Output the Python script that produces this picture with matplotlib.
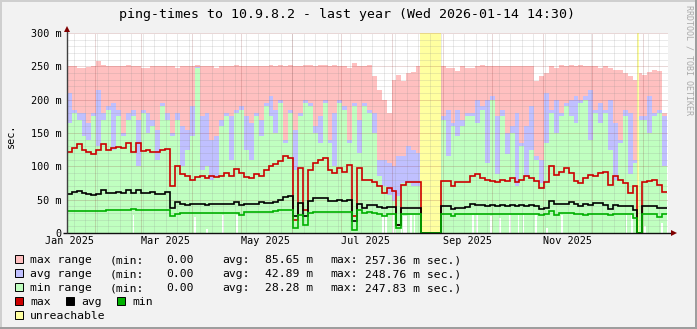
import numpy as np
import matplotlib
matplotlib.use("Agg")
import matplotlib.pyplot as plt
from matplotlib.patches import Rectangle
from matplotlib.lines import Line2D
from datetime import datetime, timedelta

W, H = 697, 329
BIN_DAYS = 3  # one value per 3 days, first bin starts 2025-01-14 14:30

# ping statistics (seconds * 1e3), one entry per bin
max_line = [121, 128, 133, 125, 121, 119, 125, 134, 124, 127, 129, 128, 135, 122, 135, 123, 125, 121, 121, 124, 126,
            70, 100, 88, 85, 80, 84, 86, 83, 86, 84, 85, 90, 86, 96, 90, 84, 82, 88, 86, 94,
            100, 104, 108, 115, 112, 20, 97, 35, 95, 105, 110, 112, 95, 90, 98, 92, 102, 25, 98, 80,
            80, 76, 70, 60, 67, 63, 12, 72, 76, 76, 76, 0, 0, 0, 0, 78, 78, 70, 76, 77, 77,
            85, 88, 82, 79, 78, 76, 80, 78, 83, 77, 80, 85, 82, 78, 68, 76, 100, 87, 92, 97,
            90, 78, 75, 82, 87, 86, 90, 92, 72, 85, 80, 75, 60, 70, 0, 76, 78, 80, 72, 62]
avg_line = [59, 62, 63, 60, 58, 57, 59, 65, 60, 60, 61, 60, 65, 60, 64, 60, 60, 61, 59, 59, 62,
            38, 47, 44, 42, 43, 43, 44, 42, 43, 44, 43, 44, 43, 46, 42, 44, 43, 44, 46, 45,
            45, 46, 50, 54, 56, 25, 45, 25, 48, 52, 53, 52, 48, 48, 50, 48, 50, 18, 44, 38,
            42, 42, 39, 37, 39, 39, 12, 38, 38, 38, 38, 0, 0, 0, 0, 40, 40, 36, 38, 38, 39,
            44, 42, 42, 41, 42, 41, 42, 41, 42, 41, 42, 41, 42, 41, 36, 38, 48, 44, 43, 43,
            46, 43, 40, 44, 42, 45, 45, 42, 36, 42, 41, 41, 40, 35, 0, 40, 40, 40, 38, 37]
min_line = [33, 33, 33, 33, 33, 33, 33, 33, 35, 34, 34, 34, 34, 36, 34, 34, 34, 34, 34, 34, 34,
            26, 28, 30, 30, 30, 30, 30, 30, 30, 30, 30, 30, 30, 30, 27, 31, 31, 31, 31, 31,
            32, 33, 34, 34, 34, 8, 27, 12, 30, 32, 31, 32, 31, 32, 31, 32, 31, 5, 34, 30,
            32, 30, 28, 26, 29, 29, 7, 29, 29, 29, 29, 0, 0, 0, 0, 28, 28, 26, 29, 29, 29,
            29, 29, 29, 29, 29, 29, 29, 29, 29, 29, 29, 29, 29, 29, 27, 28, 33, 27, 30, 30,
            30, 29, 28, 27, 29, 29, 29, 29, 27, 29, 29, 29, 29, 22, 0, 29, 29, 29, 24, 28]

# upper edges of the three range areas
max_range = [250, 250, 248, 248, 249, 250, 257.36, 252, 250, 250, 250, 250, 252, 250, 250, 248, 248, 250, 250, 250, 250,
             250, 248, 250, 250, 250, 252, 250, 250, 250, 248, 250, 250, 250, 252, 250, 250, 250, 250, 250, 250,
             252, 250, 252, 250, 252, 250, 250, 252, 252, 250, 252, 252, 250, 252, 250, 250, 248, 255, 250, 250,
             252, 235, 215, 200, 180, 230, 237, 228, 240, 242, 250, 0, 0, 0, 0, 250, 248, 248, 243, 250, 248,
             248, 250, 252, 250, 250, 250, 250, 250, 250, 250, 250, 250, 250, 228, 235, 240, 250, 248, 252, 250,
             252, 250, 252, 250, 250, 250, 248, 250, 248, 245, 245, 240, 235, 230, 240, 237, 242, 245, 243, 180]
avg_range = [210, 185, 180, 180, 165, 180, 215, 180, 190, 195, 185, 150, 180, 185, 170, 185, 180, 170, 155, 195, 180,
             150, 180, 160, 155, 190, 248.76, 175, 180, 140, 145, 170, 180, 175, 185, 190, 175, 165, 180, 170, 195,
             205, 185, 200, 140, 185, 155, 180, 200, 195, 160, 175, 200, 140, 180, 200, 190, 140, 195, 170, 195,
             185, 180, 110, 110, 105, 100, 115, 115, 130, 125, 120, 0, 0, 0, 0, 175, 185, 165, 185, 170, 180,
             180, 200, 190, 200, 205, 175, 185, 150, 160, 180, 135, 160, 190, 115, 110, 210, 185, 200, 180, 195,
             200, 205, 200, 205, 215, 185, 195, 185, 200, 165, 140, 185, 180, 110, 175, 175, 205, 180, 185, 175]
min_range = [165, 180, 170, 145, 140, 175, 130, 170, 185, 125, 175, 145, 170, 175, 100, 180, 150, 160, 110, 190, 170,
             145, 170, 100, 125, 145, 247.83, 95, 100, 80, 85, 160, 175, 110, 180, 185, 125, 110, 175, 145, 190,
             175, 150, 195, 135, 180, 95, 175, 195, 190, 150, 135, 195, 135, 100, 195, 185, 135, 190, 120, 190,
             180, 150, 85, 70, 57, 48, 55, 75, 75, 70, 70, 0, 0, 0, 0, 170, 115, 160, 145, 160, 175,
             175, 165, 185, 105, 200, 88, 175, 118, 150, 70, 130, 85, 125, 110, 75, 135, 180, 150, 175, 190,
             175, 165, 195, 200, 140, 180, 165, 180, 125, 80, 135, 175, 88, 105, 170, 170, 150, 175, 180, 100]

# days where the lowest sample stayed above zero (white under the min area)
gap_days = [40.7, 78.2, 85.5, 95.2, 103.8, 193, 194.5, 199, 200.5, 204, 205.5, 207, 210, 212,
            247.7, 250.1, 258.7, 264, 270.2, 275.4, 278.5, 286.1, 292.8, 301.8, 341.4, 344.6, 352.6, 363]
gap_heights = [27, 24, 6, 27, 27, 26, 26, 28, 28, 25, 25, 25, 27, 27,
               27, 27, 25, 22, 27, 27, 27, 27, 8, 27, 27, 27, 10, 15]

# host unreachable (days from start)
outage_start = [215.5, 347.4]
outage_end = [228.0, 348.8]

legend_names = ["max range", "avg range", "min range"]
legend_min = ["0.00", "0.00", "0.00"]
legend_avg = ["85.65 m", "42.89 m", "28.28 m"]
legend_max = ["257.36 m", "248.76 m", "247.83 m"]

title = "ping-times to 10.9.8.2 - last year (Wed 2026-01-14 14:30)"

C_MAXR, C_AVGR, C_MINR = "#ffc0c0", "#c0c0ff", "#c0ffc0"
C_MAX, C_AVG, C_MIN = "#cc0000", "#000000", "#00b000"
C_UNREACH = "#ffffa0"

plt.rcParams["font.family"] = "DejaVu Sans Mono"

start = datetime(2025, 1, 14, 14, 30)
end = start + timedelta(days=366)


def days(dt):
    return (dt - start).total_seconds() / 86400.0


def fx(x):
    return x / W


def fy(y):
    return 1 - y / H


fig = plt.figure(figsize=(W / 100, H / 100), dpi=100, facecolor="#f2f2f2")
ax = fig.add_axes([fx(66.8), fy(233), (668 - 66.8) / W, 200 / H])
ax.set_xlim(0, 366.6)
ax.set_ylim(0, 300)
ax.set_facecolor("white")
for sp in ax.spines.values():
    sp.set_visible(False)

edges = np.arange(len(max_line) + 1) * BIN_DAYS
ax.stairs(max_range, edges, fill=True, color=C_MAXR, lw=0, zorder=1)
ax.stairs(avg_range, edges, fill=True, color=C_AVGR, lw=0, zorder=2)
ax.stairs(min_range, edges, fill=True, color=C_MINR, lw=0, zorder=3)
ax.bar(gap_days, gap_heights, width=1.0, color="white", lw=0, zorder=4)
for s, e in zip(outage_start, outage_end):
    ax.axvspan(s, e, color=C_UNREACH, lw=0, zorder=5)

# grid: minor every 10 m / weekly, major every 50 m / monthly
dots = (0, (1, 1))
for v in range(10, 301, 10):
    if v % 50 == 0:
        ax.axhline(v, color="#821e1e", alpha=0.35, lw=0.72, ls=dots, zorder=6)
    else:
        ax.axhline(v, color="#8c8c8c", alpha=0.35, lw=0.72, ls=dots, zorder=6)
sunday = datetime(2025, 1, 19)
while sunday < end:
    ax.axvline(days(sunday), color="#8c8c8c", alpha=0.35, lw=0.72, ls=dots, zorder=6)
    sunday += timedelta(days=7)
month_starts = [datetime(2025, m, 1) for m in range(2, 13)] + [datetime(2026, 1, 1)]
for m in month_starts:
    ax.axvline(days(m), color="#821e1e", alpha=0.35, lw=0.72, ls=dots, zorder=6)

ax.stairs(max_line, edges, baseline=None, color=C_MAX, lw=1.2, zorder=7)
ax.stairs(avg_line, edges, baseline=None, color=C_AVG, lw=1.2, zorder=8)
ax.stairs(min_line, edges, baseline=None, color=C_MIN, lw=1.2, zorder=9)

# axes with arrows
ax.plot([-0.006, 1.009], [0, 0], transform=ax.transAxes, color="#101010", lw=1.0,
        clip_on=False, zorder=10, solid_capstyle="butt")
ax.plot([0, 0], [0, 1.015], transform=ax.transAxes, color="#404040", lw=1.0,
        clip_on=False, zorder=10, solid_capstyle="butt")
ax.plot([1.0105], [0], marker=">", ms=4.5, color="#800000", mew=0, transform=ax.transAxes,
        clip_on=False, zorder=11)
ax.plot([0], [1.022], marker="^", ms=4.5, color="#800000", mew=0, transform=ax.transAxes,
        clip_on=False, zorder=11)

yt = list(range(0, 301, 50))
ax.set_yticks(yt, ["0"] + ["%d m" % v for v in yt[1:]])
ax.tick_params(axis="y", length=0, pad=3.7, labelsize=7.3)
label_dates = [datetime(2025, m, 16) for m in (1, 3, 5, 7, 9, 11)]
ax.set_xticks([days(d) for d in label_dates], [d.strftime("%b %Y") for d in label_dates])
ax.tick_params(axis="x", length=0, pad=2.4, labelsize=7.3)

fig.text(fx(346.7), fy(18.3), title, ha="center", va="baseline", fontsize=9.5)
fig.text(fx(10.7), fy(136), "sec.", rotation=90, ha="center", va="center", fontsize=7.3)
fig.text(fx(688.5), fy(60), "RRDTOOL / TOBI OETIKER", rotation=270, ha="center", va="center",
         fontsize=6, color="#aaaaaa")


def swatch(x, base, color):
    fig.add_artist(Rectangle((fx(x), fy(base)), 8 / W, 8 / H, transform=fig.transFigure,
                             facecolor=color, edgecolor="black", lw=0.7))


LFS = 8.2
for i, name in enumerate(legend_names):
    base = 263.3 + 14 * i
    swatch(15, base, [C_MAXR, C_AVGR, C_MINR][i])
    fig.text(fx(30), fy(base), name, fontsize=LFS, va="baseline")
    fig.text(fx(109.3), fy(base), "(min:", fontsize=LFS, va="baseline")
    fig.text(fx(193.5), fy(base), legend_min[i], fontsize=LFS, va="baseline", ha="right")
    fig.text(fx(222), fy(base), "avg:", fontsize=LFS, va="baseline")
    fig.text(fx(265), fy(base), legend_avg[i], fontsize=LFS, va="baseline")
    fig.text(fx(330), fy(base), "max:", fontsize=LFS, va="baseline")
    fig.text(fx(365), fy(base), legend_max[i] + " sec.)", fontsize=LFS, va="baseline")

base = 263.3 + 14 * 3
for x, c, t in [(15, C_MAX, "max"), (66, C_AVG, "avg"), (117, C_MIN, "min")]:
    swatch(x, base, c)
    fig.text(fx(x + 15), fy(base), t, fontsize=LFS, va="baseline")
base = 263.3 + 14 * 4
swatch(15, base, C_UNREACH)
fig.text(fx(30), fy(base), "unreachable", fontsize=LFS, va="baseline")

# shaded frame
fig.add_artist(Line2D([0, 1], [fy(1), fy(1)], transform=fig.transFigure, color="#cfcfcf", lw=1.44))
fig.add_artist(Line2D([fx(1), fx(1)], [0, 1], transform=fig.transFigure, color="#cfcfcf", lw=1.44))
fig.add_artist(Line2D([0, 1], [fy(H - 1), fy(H - 1)], transform=fig.transFigure, color="#9e9e9e", lw=1.44))
fig.add_artist(Line2D([fx(W - 1), fx(W - 1)], [0, 1], transform=fig.transFigure, color="#9e9e9e", lw=1.44))

fig.savefig("out.png", dpi=100, facecolor=fig.get_facecolor())
